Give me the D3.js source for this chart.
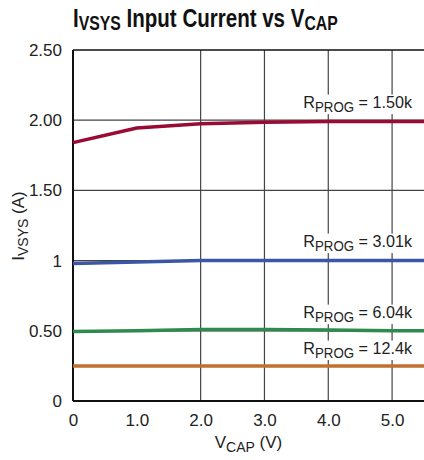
<!DOCTYPE html>
<html>
<head>
<meta charset="utf-8">
<script src="https://cdn.jsdelivr.net/npm/d3@7"></script>
<style>
  body { margin: 0; background: #fff; }
  text { font-family: "Liberation Sans", Arial, sans-serif; fill: #222; }
</style>
</head>
<body>
<div id="chart"></div>
<script>
// Data
const vcap = [0, 1.0, 2.0, 3.0, 4.0, 5.0, 5.5];
const i150 = [1.84, 1.945, 1.975, 1.985, 1.99, 1.99, 1.99];
const i301 = [0.98, 0.99, 1.0, 1.0, 1.0, 1.0, 1.0];
const i604 = [0.495, 0.50, 0.51, 0.51, 0.505, 0.50, 0.50];
const i124 = [0.25, 0.25, 0.25, 0.25, 0.25, 0.25, 0.25];
const seriesNames = ["1.50k", "3.01k", "6.04k", "12.4k"];
const seriesColors = ["#990a35", "#3a56a5", "#2e8a4e", "#c0712f"];
const labelY = [2.087, 1.097, 0.591, 0.335];   // label baselines (A)
const xTicks = [0, 1, 2, 3, 4, 5];
const xTickLabels = ["0", "1.0", "2.0", "3.0", "4.0", "5.0"];
const yTicks = [0, 0.5, 1, 1.5, 2, 2.5];
const yTickLabels = ["0", "0.50", "1", "1.50", "2.00", "2.50"];
const xGrid = [2, 3, 4, 5];

const W = 424, H = 460;
const margin = {top: 50, right: 0, bottom: 59, left: 73};
const width = W - margin.left - margin.right,
      height = H - margin.top - margin.bottom;

const svg = d3.select("#chart").append("svg")
    .attr("width", W).attr("height", H);

// Title (condensed bold look)
const title = svg.append("g").attr("transform", "translate(73,27) scale(0.79,1)")
  .append("text")
    .style("font-size", "26px").style("font-weight", "bold").style("fill", "#111");
title.append("tspan").text("I");
title.append("tspan").attr("dy", 3).style("font-size", "20px").text("VSYS");
title.append("tspan").attr("dy", -3).text(" Input Current vs V");
title.append("tspan").attr("dy", 3).style("font-size", "20px").text("CAP");

const g = svg.append("g")
    .attr("transform", "translate(" + margin.left + "," + margin.top + ")");

const x = d3.scaleLinear().domain([0, 5.5]).range([0, width]);
const y = d3.scaleLinear().domain([0, 2.5]).range([height, 0]);

// grid
g.append("g").selectAll("line").data(yTicks.filter(d => d > 0 && d < 2.5))
    .enter().append("line")
    .attr("x1", 0).attr("x2", width)
    .attr("y1", d => y(d)).attr("y2", d => y(d))
    .attr("stroke", "#444").attr("stroke-width", 1.2);
g.append("g").selectAll("line").data(xGrid)
    .enter().append("line")
    .attr("x1", d => x(d)).attr("x2", d => x(d))
    .attr("y1", 0).attr("y2", height)
    .attr("stroke", "#444").attr("stroke-width", 1.2);

// frame: top, left, bottom
g.append("line").attr("x1", 0).attr("x2", width).attr("y1", 0).attr("y2", 0)
    .attr("stroke", "#111").attr("stroke-width", 1.5);
g.append("line").attr("x1", 0).attr("x2", 0).attr("y1", 0).attr("y2", height)
    .attr("stroke", "#111").attr("stroke-width", 2);
g.append("line").attr("x1", 0).attr("x2", width).attr("y1", height).attr("y2", height)
    .attr("stroke", "#111").attr("stroke-width", 2);

// axes (labels only)
const xAxis = g.append("g").attr("transform", "translate(0," + height + ")")
    .call(d3.axisBottom(x).tickValues(xTicks).tickSize(0).tickPadding(13)
        .tickFormat((d, i) => xTickLabels[i]));
xAxis.select(".domain").remove();
xAxis.selectAll("text").style("font-size", "17px")
    .style("font-family", "'Liberation Sans', Arial, sans-serif").style("fill", "#222");

const yAxis = g.append("g")
    .call(d3.axisLeft(y).tickValues(yTicks).tickSize(0).tickPadding(11)
        .tickFormat((d, i) => yTickLabels[i]));
yAxis.select(".domain").remove();
yAxis.selectAll("text").style("font-size", "17px")
    .style("font-family", "'Liberation Sans', Arial, sans-serif").style("fill", "#222");

// axis titles
const xt = svg.append("text").attr("x", margin.left + width / 2).attr("y", 448)
    .attr("text-anchor", "middle").style("font-size", "17px");
xt.append("tspan").text("V");
xt.append("tspan").attr("dy", 4).style("font-size", "14px").text("CAP");
xt.append("tspan").attr("dy", -4).text(" (V)");

const yt = svg.append("text")
    .attr("transform", "translate(24,226) rotate(-90)")
    .attr("text-anchor", "middle").style("font-size", "17px");
yt.append("tspan").text("I");
yt.append("tspan").attr("dy", 4).style("font-size", "14px").text("VSYS");
yt.append("tspan").attr("dy", -4).text(" (A)");

// labels with white backing
const allSeries = [i150, i301, i604, i124];
seriesNames.forEach((name, k) => {
    const lg = g.append("g")
        .attr("transform", "translate(" + (width - 12) + "," + y(labelY[k]) + ") scale(0.95,1)");
    const t = lg.append("text")
        .attr("text-anchor", "end").style("font-size", "17px");
    t.append("tspan").text("R");
    t.append("tspan").attr("dy", 4).style("font-size", "14px").text("PROG");
    t.append("tspan").attr("dy", -4).text(" = " + name);
    const bb = t.node().getBBox();
    lg.insert("rect", "text")
        .attr("x", bb.x - 1).attr("y", bb.y + 2)
        .attr("width", bb.width + 2).attr("height", bb.height - 3)
        .attr("fill", "#fff");
});

// lines
const line = d3.line().x((d, i) => x(vcap[i])).y(d => y(d));
g.append("g").selectAll("path").data(allSeries)
    .enter().append("path")
    .attr("d", line)
    .attr("fill", "none")
    .attr("stroke", (d, i) => seriesColors[i])
    .attr("stroke-width", 3.5)
    .attr("stroke-linejoin", "round");
</script>
</body>
</html>
